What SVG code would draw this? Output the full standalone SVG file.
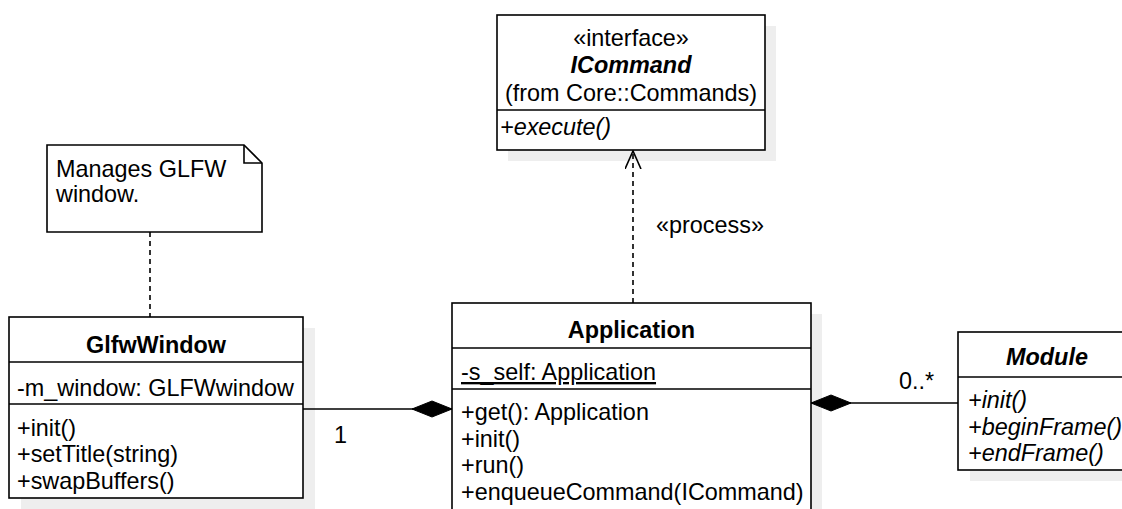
<svg xmlns="http://www.w3.org/2000/svg" width="1122" height="509" viewBox="0 0 1122 509">
  <style>
    .box { fill: #ffffff; stroke: #000000; stroke-width: 1.6; }
    .shadow { fill: #eeeeee; stroke: none; }
    .sep { stroke: #000000; stroke-width: 1.6; fill: none; }
    .txt { font-family: "Liberation Sans", Arial, sans-serif; font-size: 23.4px; fill: #000000; }
    .title { font-weight: bold; text-anchor: middle; }
    .mid { text-anchor: middle; }
    .it { font-style: italic; }
    .edge { stroke: #000000; stroke-width: 1.6; fill: none; }
    .dash { stroke-dasharray: 5 4; }
  </style>
  <defs>
    <marker id="openArrow" markerWidth="20" markerHeight="20" refX="18" refY="8" orient="auto" markerUnits="userSpaceOnUse">
      <path d="M0,0 L18,8 L0,16" fill="none" stroke="#000000" stroke-width="1.6"/>
    </marker>
    <marker id="composition" markerWidth="44" markerHeight="20" refX="40" refY="9" orient="auto" markerUnits="userSpaceOnUse">
      <path d="M0,9 L20,1 L40,9 L20,17 Z" fill="#000000" stroke="#000000" stroke-width="1"/>
    </marker>
  </defs>

  <!-- drop shadows sit beneath every shape -->
  <g id="shadows">
    <rect class="shadow" x="508" y="26" width="268" height="135"/>
    <rect class="shadow" x="21" y="328" width="294" height="181"/>
    <rect class="shadow" x="463" y="314" width="359" height="220"/>
    <rect class="shadow" x="970" y="343" width="178" height="138"/>
  </g>

  <!-- connectors -->
  <g id="connectors">
    <line class="edge dash" x1="150" y1="232" x2="150" y2="317"/>
    <line class="edge dash" x1="633" y1="303" x2="633" y2="151" marker-end="url(#openArrow)"/>
    <text class="txt mid" x="710" y="233">«process»</text>
    <line class="edge" x1="303" y1="409" x2="452" y2="409" marker-end="url(#composition)"/>
    <text class="txt" x="334" y="443">1</text>
    <line class="edge" x1="958" y1="403" x2="811" y2="403" marker-end="url(#composition)"/>
    <text class="txt" x="899" y="389">0..*</text>
  </g>

  <!-- interface ICommand -->
  <g id="ICommand">
    <rect class="box" x="497" y="15" width="268" height="135"/>
    <line class="sep" x1="497" y1="110" x2="765" y2="110"/>
    <text class="txt mid" x="631" y="46">«interface»</text>
    <text class="txt title it" x="631" y="73">ICommand</text>
    <text class="txt mid" x="631" y="101">(from Core::Commands)</text>
    <text class="txt it" x="500" y="135">+execute()</text>
  </g>

  <!-- note -->
  <g id="note">
    <path class="box" d="M47,145 L244,145 L262,163 L262,232 L47,232 Z"/>
    <path class="sep" d="M244,145 L244,163 L262,163"/>
    <text class="txt" x="56" y="177">Manages GLFW</text>
    <text class="txt" x="56" y="202">window.</text>
  </g>

  <!-- class GlfwWindow -->
  <g id="GlfwWindow">
    <rect class="box" x="9" y="317" width="294" height="181"/>
    <line class="sep" x1="9" y1="362" x2="303" y2="362"/>
    <line class="sep" x1="9" y1="404" x2="303" y2="404"/>
    <text class="txt title" x="156" y="353">GlfwWindow</text>
    <text class="txt" x="17" y="396">-m_window: GLFWwindow</text>
    <text class="txt" x="17" y="436">+init()</text>
    <text class="txt" x="17" y="462">+setTitle(string)</text>
    <text class="txt" x="17" y="489">+swapBuffers()</text>
  </g>

  <!-- class Application -->
  <g id="Application">
    <rect class="box" x="452" y="303" width="359" height="220"/>
    <line class="sep" x1="452" y1="348" x2="811" y2="348"/>
    <line class="sep" x1="452" y1="389" x2="811" y2="389"/>
    <text class="txt title" x="631.5" y="338">Application</text>
    <text class="txt" x="461" y="380" text-decoration="underline">-s_self: Application</text>
    <text class="txt" x="461" y="420">+get(): Application</text>
    <text class="txt" x="461" y="447">+init()</text>
    <text class="txt" x="461" y="473">+run()</text>
    <text class="txt" x="461" y="500">+enqueueCommand(ICommand)</text>
  </g>

  <!-- abstract class Module -->
  <g id="Module">
    <rect class="box" x="958" y="332" width="178" height="138"/>
    <line class="sep" x1="958" y1="377" x2="1136" y2="377"/>
    <text class="txt title it" x="1047" y="365">Module</text>
    <text class="txt it" x="968" y="408">+init()</text>
    <text class="txt it" x="968" y="435">+beginFrame()</text>
    <text class="txt it" x="968" y="461">+endFrame()</text>
  </g>
</svg>
